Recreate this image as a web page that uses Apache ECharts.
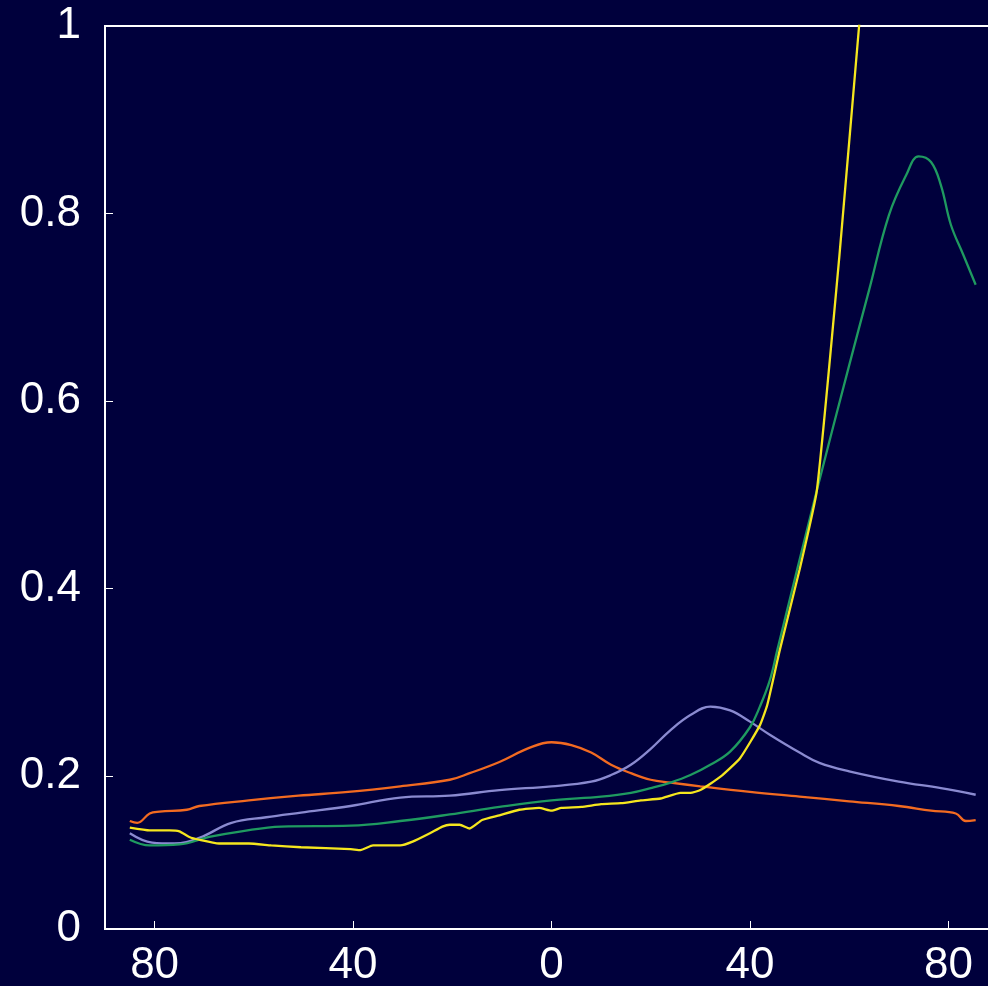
<!DOCTYPE html>
<html>
<head>
<meta charset="utf-8">
<script src="https://cdn.jsdelivr.net/npm/echarts@6/dist/echarts.min.js"></script>
<style>
  html, body { margin: 0; padding: 0; background: #00003c; }
  #chart { width: 988px; height: 986px; }
</style>
</head>
<body>
<div id="chart"></div>
<script>
// Latitude profiles of four quantities (x: latitude in degrees, y: value)
const orangeLat = [-85, -83.5, -81, -79, -73.5, -71, -61, -51, -41, -30.5, -20.5, -16.5, -10.5, -4.5, 0, 4, 8, 12, 16, 20, 24, 30, 40, 50, 60, 70, 76.5, 81.5, 83.5, 85.5];
const orangeVal = [0.152, 0.150, 0.160, 0.162, 0.164, 0.168, 0.174, 0.179, 0.183, 0.189, 0.196, 0.203, 0.215, 0.230, 0.236, 0.233, 0.225, 0.212, 0.203, 0.196, 0.193, 0.189, 0.183, 0.178, 0.173, 0.168, 0.163, 0.160, 0.152, 0.153];

const lavenderLat = [-85, -80.5, -76, -71, -64.5, -57.5, -50.5, -40.5, -30.5, -20.5, -10.5, 0, 8, 12, 16, 20, 24, 28, 32, 36, 40, 44, 50, 54, 60, 70, 78.5, 85.5];
const lavenderVal = [0.139, 0.129, 0.128, 0.134, 0.150, 0.156, 0.161, 0.168, 0.177, 0.179, 0.185, 0.189, 0.194, 0.201, 0.212, 0.229, 0.249, 0.265, 0.274, 0.270, 0.258, 0.244, 0.225, 0.214, 0.205, 0.194, 0.187, 0.180];

const greenLat = [-85, -81, -75, -69, -62.5, -54.5, -40.5, -30.5, -20.5, -10.5, 0, 10, 16, 20, 24, 28, 32, 36, 40, 42, 44, 45.5, 53.5, 60, 64, 68, 71.5, 74, 76.5, 78.5, 80.5, 83, 85.5];
const greenVal = [0.132, 0.126, 0.127, 0.135, 0.141, 0.146, 0.147, 0.152, 0.159, 0.167, 0.174, 0.178, 0.182, 0.187, 0.193, 0.201, 0.212, 0.226, 0.252, 0.274, 0.302, 0.334, 0.505, 0.638, 0.718, 0.798, 0.841, 0.861, 0.855, 0.830, 0.788, 0.756, 0.724];

const yellowLat = [-85, -81, -77, -75, -73, -71, -67, -61, -56.5, -50.5, -40.5, -38.5, -36, -30.5, -28, -24.5, -22, -20.5, -18.5, -16.5, -14, -10.5, -6.5, -2.5, 0, 2, 6, 10, 14, 18, 22, 26, 28, 30, 34, 38, 42, 43.5, 46, 50, 53.5, 58, 62, 65];
const yellowVal = [0.145, 0.142, 0.142, 0.141, 0.135, 0.132, 0.128, 0.128, 0.126, 0.124, 0.122, 0.121, 0.126, 0.126, 0.130, 0.139, 0.146, 0.148, 0.148, 0.144, 0.153, 0.158, 0.164, 0.166, 0.163, 0.166, 0.167, 0.170, 0.171, 0.174, 0.176, 0.182, 0.182, 0.185, 0.199, 0.219, 0.254, 0.276, 0.334, 0.420, 0.505, 0.753, 1.0, 1.17];

// Axis tick positions and labels
const xTicks = [-80, -40, 0, 40, 80];
const yMin = 0.0368;
const yTicks = [yMin, 0.2, 0.4, 0.6, 0.8, 1];

const pairs = (xs, ys) => xs.map((x, i) => [x, ys[i]]);

const chart = echarts.init(document.getElementById('chart'), null, { renderer: 'canvas' });

const labelFont = { color: '#ffffff', fontSize: 44, fontFamily: 'Liberation Sans, Arial, sans-serif' };

const line = (data, color, smooth) => ({
  type: 'line',
  data,
  showSymbol: false,
  smooth,
  clip: true,
  lineStyle: { color, width: 2.3 },
  emphasis: { disabled: true }
});

chart.setOption({
  animation: false,
  backgroundColor: '#00003c',
  grid: {
    left: 105, top: 26, right: -10, bottom: 57,
    containLabel: false,
    outerBoundsMode: 'none',
    show: true,
    borderColor: '#ffffff',
    borderWidth: 2,
    backgroundColor: 'transparent'
  },
  xAxis: {
    type: 'value',
    min: -90, max: 90,
    axisLine: { show: true, onZero: false, lineStyle: { color: '#ffffff', width: 2 } },
    axisTick: { show: true, inside: true, length: 8, customValues: xTicks, lineStyle: { color: '#ffffff', width: 1 } },
    axisLabel: Object.assign({ customValues: xTicks, margin: 15, formatter: v => String(Math.abs(v)) }, labelFont),
    splitLine: { show: false }
  },
  yAxis: {
    type: 'value',
    min: yMin, max: 1,
    axisLine: { show: true, onZero: false, lineStyle: { color: '#ffffff', width: 2 } },
    axisTick: { show: true, inside: true, length: 8, customValues: yTicks, lineStyle: { color: '#ffffff', width: 1 } },
    axisLabel: Object.assign({ customValues: yTicks, margin: 24, formatter: v => (v < 0.1 ? '0' : String(v)) }, labelFont),
    splitLine: { show: false }
  },
  series: [
    line(pairs(orangeLat, orangeVal), '#f26a21', 0.4),
    line(pairs(lavenderLat, lavenderVal), '#8a8ad0', 0.4),
    line(pairs(greenLat, greenVal), '#1f9a60', 0.4),
    line(pairs(yellowLat, yellowVal), '#f5e61e', 0.15)
  ]
});
</script>
</body>
</html>
